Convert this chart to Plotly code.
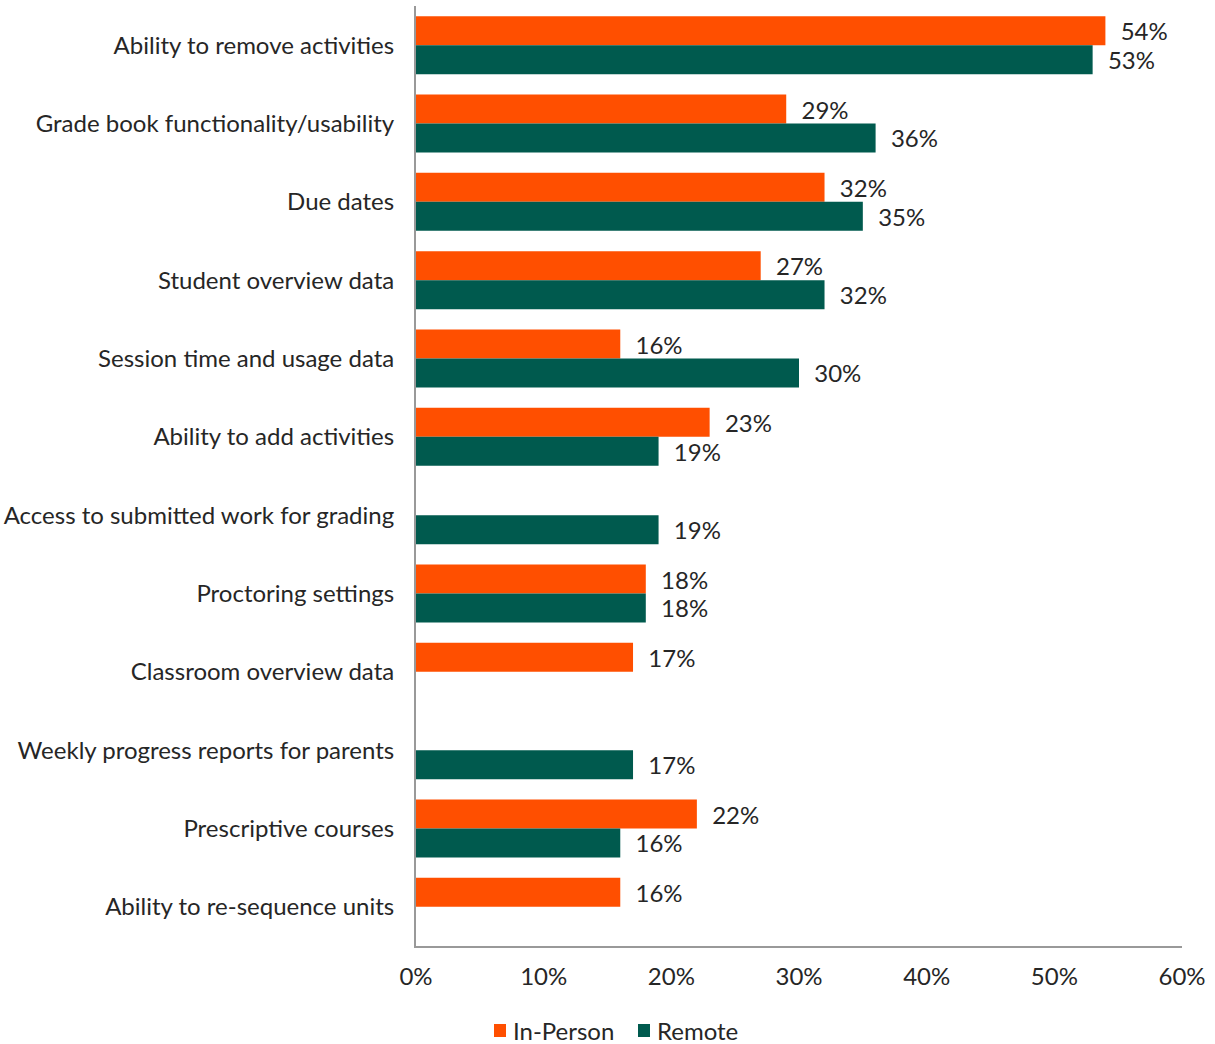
import plotly.graph_objects as go

categories = [
    "Ability to remove activities",
    "Grade book functionality/usability",
    "Due dates",
    "Student overview data",
    "Session time and usage data",
    "Ability to add activities",
    "Access to submitted work for grading",
    "Proctoring settings",
    "Classroom overview data",
    "Weekly progress reports for parents",
    "Prescriptive courses",
    "Ability to re-sequence units",
]
in_person = [54, 29, 32, 27, 16, 23, None, 18, 17, None, 22, 16]
remote = [53, 36, 35, 32, 30, 19, 19, 18, None, 17, 16, None]
tick_vals = [0, 10, 20, 30, 40, 50, 60]
tick_text = ["0%", "10%", "20%", "30%", "40%", "50%", "60%"]
series_names = ["In-Person", "Remote"]
series_colors = ["#FF4F00", "#005A4E"]

FONT = "Lato, 'Open Sans', sans-serif"
TXT = "#262626"
FS = 24

W, H = 1215, 1044
ML, MR, MT, MB = 416, 33, 6, 98
PW, PH = W - ML - MR, H - MT - MB


def labels(vals):
    return ["\u00a0\u00a0" + f"{v}%" if v is not None else "" for v in vals]


def px_to_paper(px, py):
    return (px - ML) / PW, (H - MB - py) / PH


fig = go.Figure()
for name, vals, col in zip(series_names, [in_person, remote], series_colors):
    fig.add_trace(go.Bar(
        name=name, y=categories, x=vals, orientation="h",
        marker=dict(color=col, line=dict(width=0)),
        text=labels(vals), textposition="outside", cliponaxis=False,
        textfont=dict(family=FONT, size=FS, color=TXT),
        showlegend=False,
    ))

# legend drawn manually (squares + text)
legend_items = [(494, 511), (638, 655)]
shapes = []
annotations = []
for (sq_x, tx_x), name, col in zip(legend_items, series_names, series_colors):
    x0, y0 = px_to_paper(sq_x, 1037)
    x1, y1 = px_to_paper(sq_x + 12, 1024)
    shapes.append(dict(type="rect", xref="paper", yref="paper", x0=x0, x1=x1,
                       y0=y0, y1=y1, fillcolor=col, line=dict(width=0)))
    ax, ay = px_to_paper(tx_x, 1030)
    annotations.append(dict(text=name, xref="paper", yref="paper", x=ax, y=ay,
                            xanchor="left", yanchor="middle", showarrow=False,
                            font=dict(family=FONT, size=FS, color=TXT)))

fig.update_layout(
    width=W, height=H,
    margin=dict(l=ML, r=MR, t=MT, b=MB),
    paper_bgcolor="white", plot_bgcolor="white",
    barmode="group", bargap=0.26, bargroupgap=0,
    font=dict(family=FONT, size=FS, color=TXT),
    showlegend=False,
    shapes=shapes, annotations=annotations,
    xaxis=dict(range=[0, 60], tickvals=tick_vals, ticktext=tick_text,
               showgrid=False, zeroline=False, showline=True, linecolor="#999999",
               linewidth=2, ticks="", ticklabelstandoff=8, automargin=False,
               tickfont=dict(family=FONT, size=FS, color=TXT)),
    yaxis=dict(autorange="reversed", showgrid=False, zeroline=False,
               showline=True, linecolor="#999999", linewidth=2, ticks="",
               ticklabelstandoff=15, automargin=False,
               tickfont=dict(family=FONT, size=FS, color=TXT)),
)

fig.write_html("out.html")
